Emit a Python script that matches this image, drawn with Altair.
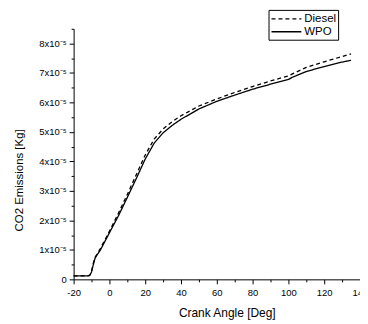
import altair as alt
import pandas as pd

# Crank angle [deg]
angle = [-20, -12, -11, -10, -9, -8, -7, -5, 0, 5, 10, 15, 20, 25, 30, 35, 40,
         50, 60, 70, 80, 90, 100, 102, 110, 120, 130, 135]
# CO2 emissions in units of 1e-5 kg
wpo = [0.12, 0.12, 0.13, 0.25, 0.5, 0.72, 0.82, 1.0, 1.58, 2.15, 2.78, 3.42, 4.08,
       4.62, 4.97, 5.22, 5.43, 5.78, 6.04, 6.25, 6.45, 6.62, 6.78, 6.85, 7.05,
       7.22, 7.37, 7.43]
diesel = [0.12, 0.12, 0.14, 0.28, 0.55, 0.75, 0.85, 1.05, 1.63, 2.24, 2.88, 3.55,
          4.22, 4.76, 5.1, 5.35, 5.55, 5.88, 6.12, 6.34, 6.54, 6.73, 6.9, 6.96,
          7.19, 7.38, 7.56, 7.65]
series = ["Diesel", "WPO"]

df = pd.concat([
    pd.DataFrame({"angle": angle, "co2": diesel, "fuel": "Diesel"}),
    pd.DataFrame({"angle": angle, "co2": wpo, "fuel": "WPO"}),
])

x_vals = list(range(-20, 141, 10))
y_vals = [i * 0.5 for i in range(0, 18)]

font = "Liberation Sans"

chart = alt.Chart(df).mark_line(color="black", strokeWidth=1.3).encode(
    x=alt.X("angle:Q",
            scale=alt.Scale(domain=[-20, 140], nice=False, zero=False),
            axis=alt.Axis(
                values=x_vals, title="Crank Angle [Deg]",
                labelExpr="datum.value % 20 == 0 ? datum.value : ''",
                tickSize={"condition": {"test": "datum.value % 20 != 0", "value": 2.5}, "value": 4.5},
                labelOverlap=False, labelFlush=False, grid=False,
                domainColor="black", tickColor="black", labelColor="black",
                labelFont=font, labelFontSize=9.5, labelPadding=4,
                titleFont=font, titleFontSize=12, titleFontWeight="normal",
                titleColor="black", titleX=154, titleY=33, titleBaseline="middle",
            )),
    y=alt.Y("co2:Q",
            scale=alt.Scale(domain=[0, 8.5], nice=False),
            axis=alt.Axis(
                values=y_vals, title="CO2 Emissions [Kg]",
                labelExpr="datum.value == 0 ? '0' : (datum.value % 1 == 0 ? datum.value + 'x10⁻⁵' : '')",
                tickSize={"condition": {"test": "datum.value % 1 != 0", "value": 2.5}, "value": 4.5},
                labelOverlap=False, labelFlush=False, grid=False,
                domainColor="black", tickColor="black", labelColor="black",
                labelFont=font, labelFontSize=9.5, labelPadding=3,
                titleFont=font, titleFontSize=11.5, titleFontWeight="normal",
                titleColor="black", titleX=-54, titleY=152, titleBaseline="middle",
                titleAlign="center",
            )),
    strokeDash=alt.StrokeDash("fuel:N",
                              scale=alt.Scale(domain=series, range=[[4, 3], [1, 0]]),
                              legend=alt.Legend(
                                  title=None, orient="none", legendX=196, legendY=-19,
                                  symbolType="M-1,0H4", symbolSize=144, symbolStrokeColor="black",
                                  symbolFillColor="transparent",
                                  symbolStrokeWidth=1.3, labelFont=font, labelFontSize=11.5,
                                  labelColor="black", labelOffset=20, padding=2,
                                  strokeColor="black", rowPadding=0,
                              )),
).properties(
    width=288, height=252,
    autosize=alt.AutoSizeParams(type="none"),
    padding={"left": 66, "top": 20, "right": 0, "bottom": 42},
).configure_view(stroke=None)

chart.save("out.html", embed_options={"renderer": "svg", "actions": False})
